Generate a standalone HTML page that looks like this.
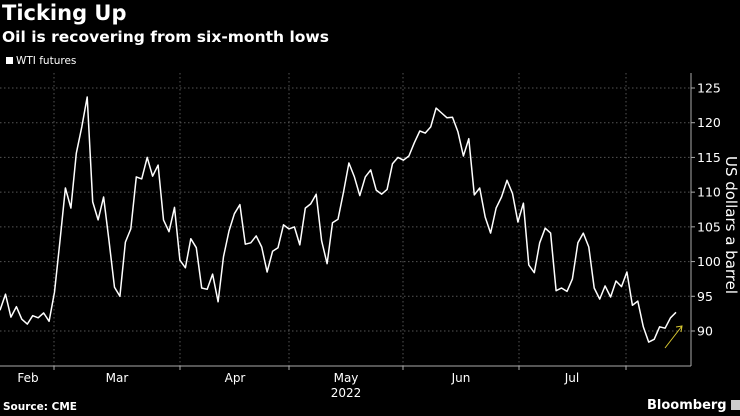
<!DOCTYPE html>
<html><head><meta charset="utf-8"><style>
html,body{margin:0;padding:0;background:#000;}
body{width:740px;height:416px;overflow:hidden;position:relative;font-family:"DejaVu Sans","Liberation Sans",sans-serif;color:#fff;}
.t{position:absolute;white-space:nowrap;}
</style></head><body>
<div class="t" style="left:2px;top:1px;font-size:21px;font-weight:bold;">Ticking Up</div>
<div class="t" style="left:2px;top:28px;font-size:15.5px;font-weight:bold;">Oil is recovering from six-month lows</div>
<div class="t" style="left:6px;top:55px;font-size:10.5px;"><span style="display:inline-block;width:7px;height:7px;background:#fff;margin-right:3px;"></span>WTI futures</div>
<svg id="chart" width="740" height="416" style="position:absolute;left:0;top:0;"></svg>
<div class="t" style="left:3px;top:401px;font-size:10.5px;font-weight:bold;">Source: CME</div>
<div class="t" style="left:647px;top:398px;font-size:13px;font-weight:bold;">Bloomberg <span style="display:inline-block;width:10px;height:10px;background:#ccc;vertical-align:-1px;"></span></div>
<script>
const values=[93,95.3,92,93.5,91.7,91,92.2,91.9,92.6,91.4,95.6,103,110.6,107.7,115.6,119.4,123.7,108.6,106,109.3,103,96.3,95,102.8,104.7,112.2,111.9,115,112.3,113.9,106,104.3,107.8,100.2,99.1,103.3,102,96.2,96,98.2,94.2,100.7,104.4,106.9,108.2,102.5,102.7,
103.7,102.1,98.5,101.5,102,105.3,104.7,105,102.4,107.7,108.3,109.7,103,99.7,105.6,106.1,110,114.2,112.2,109.5,112.2,113.2,110.3,109.7,110.4,114.1,115,114.6,115.2,117.1,118.8,118.5,119.4,122.1,121.4,120.7,120.8,118.7,115.2,117.7,109.6,
110.6,106.4,104.1,107.7,109.3,111.7,109.8,105.7,108.4,99.5,98.4,102.7,104.8,104.1,95.8,96.2,95.7,97.5,102.7,104.1,102.1,96.2,94.6,96.5,94.9,97.2,96.4,98.5,93.7,94.3,90.6,88.4,88.8,90.6,90.4,91.9,92.7];
const yTicks=[90,95,100,105,110,115,120,125];
const months=["Feb","Mar","Apr","May","Jun","Jul"];
const yearLabel="2022";
const NS="http://www.w3.org/2000/svg";
const svg=document.getElementById('chart');
const X0=0,X1=676,AX=691,TOP=73,BOT=366;
const y=v=>331-(v-90)*6.943;
const x=i=>X0+(X1-X0)*i/(values.length-1);
function mk(tag,attrs){const e=document.createElementNS(NS,tag);for(const k in attrs)e.setAttribute(k,attrs[k]);svg.appendChild(e);return e;}
yTicks.forEach(t=>{
 const g=mk('line',{x1:0,x2:AX,y1:y(t),y2:y(t),stroke:'#555','stroke-dasharray':'1.5,2.5','stroke-width':1});
 
 
 const tk=mk('line',{x1:AX,x2:AX+4,y1:y(t),y2:y(t),stroke:'#aaa'});
 
 
 const tx=mk('text',{x:AX+6,y:y(t)+4.5,fill:'#fff','font-size':12.5,'font-family':'DejaVu Sans, Liberation Sans, sans-serif'});
 tx.textContent=t;
 
 
});
const bounds=[54,180,289,403,519,626];
bounds.forEach(b=>{
 const g=mk('line',{x1:b,x2:b,y1:TOP,y2:BOT,stroke:'#555','stroke-dasharray':'1.5,2.5'});
 
 
 const tk=mk('line',{x1:b,x2:b,y1:BOT,y2:BOT+4,stroke:'#aaa'});
 
 
});
const centers=[28,117,235,346,461,572];
months.forEach((m,i)=>{
 const t=mk('text',{x:centers[i],y:382,fill:'#fff','font-size':12,'text-anchor':'middle','font-family':'DejaVu Sans, Liberation Sans, sans-serif'});
 t.textContent=m;
 
 
});
const yr=mk('text',{x:346,y:397,fill:'#fff','font-size':12,'text-anchor':'middle','font-family':'DejaVu Sans, Liberation Sans, sans-serif'});
yr.textContent=yearLabel;


const ax=mk('line',{x1:0,x2:AX,y1:BOT,y2:BOT,stroke:'#aaa','stroke-width':1});


const ay=mk('line',{x1:AX,x2:AX,y1:TOP,y2:BOT,stroke:'#aaa','stroke-width':1});


const yt=mk('text',{x:0,y:0,fill:'#fff','font-size':15,'text-anchor':'middle',transform:'translate(726,225) rotate(90)','font-family':'DejaVu Sans, Liberation Sans, sans-serif'});
yt.textContent='US dollars a barrel';


const line=mk('polyline',{points:values.map((v,i)=>x(i).toFixed(1)+','+y(v).toFixed(1)).join(' '),fill:'none',stroke:'#fff','stroke-width':1.5,'stroke-linejoin':'round'});


const ar=mk('path',{d:'M665,348 L682,326 M676,327 L682,326 L681,332',stroke:'#d8c832','stroke-width':1,fill:'none'});


</script>
</body></html>
